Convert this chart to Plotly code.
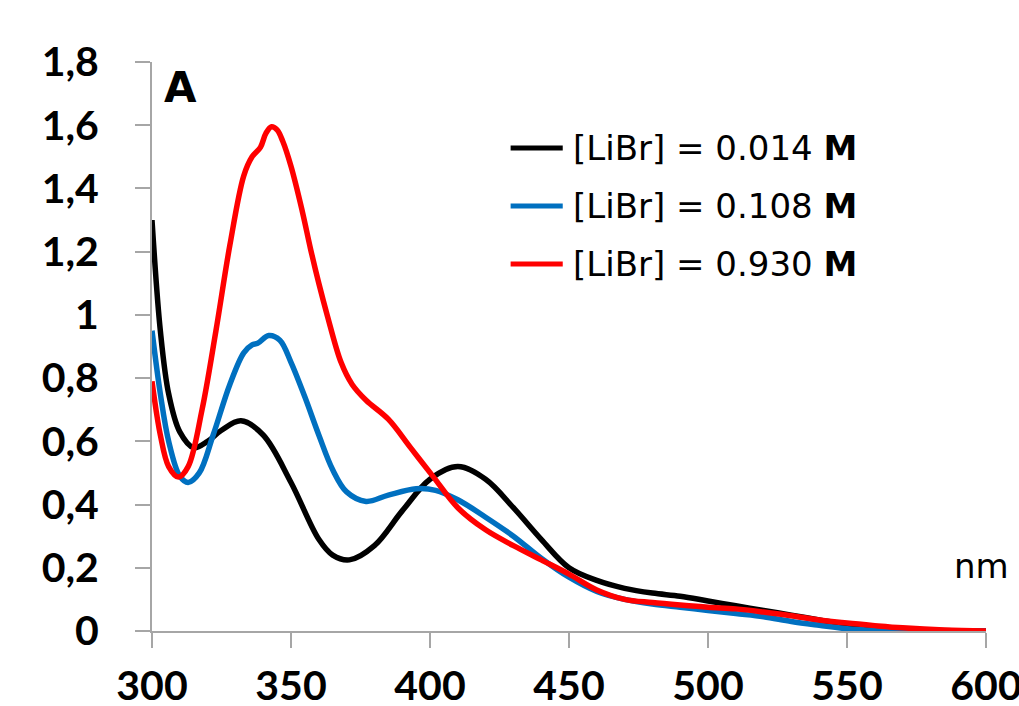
import plotly.graph_objects as go

# wavelengths (nm) and absorbance for each [LiBr]
wl_014 = [300, 303, 306, 310, 315, 320, 325, 332, 340, 350, 360, 365, 371, 380, 390, 400, 410, 420, 430,
          440, 450, 460, 470, 480, 490, 500, 510, 520, 530, 540, 550, 560, 575, 600]
abs_014 = [1.30, 0.95, 0.75, 0.63, 0.58, 0.60, 0.635, 0.665, 0.62, 0.47, 0.29, 0.24, 0.225, 0.27, 0.38, 0.48,
           0.52, 0.48, 0.39, 0.29, 0.20, 0.16, 0.135, 0.12, 0.11, 0.095, 0.08, 0.065, 0.05, 0.035, 0.02,
           0.01, 0.003, 0.0]

wl_108 = [300, 303, 306, 310, 313, 317, 322, 328, 333, 336, 338, 342, 346, 350, 355, 360, 365, 370, 377,
          385, 395, 402, 410, 420, 430, 440, 450, 460, 470, 480, 490, 500, 510, 520, 530, 540, 550, 560,
          575, 600]
abs_108 = [0.95, 0.75, 0.60, 0.49, 0.47, 0.50, 0.62, 0.78, 0.88, 0.905, 0.91, 0.935, 0.92, 0.85, 0.74, 0.62,
           0.51, 0.44, 0.41, 0.43, 0.45, 0.445, 0.415, 0.36, 0.30, 0.23, 0.17, 0.125, 0.10, 0.085, 0.075,
           0.065, 0.055, 0.045, 0.03, 0.018, 0.007, 0.002, 0.0, 0.0]

wl_930 = [300, 303, 306, 309.5, 313, 318, 323, 328, 333, 336, 339, 341, 343, 345, 347, 350, 354, 357, 360,
          363, 368, 372, 377, 385, 393, 401, 410, 420, 430, 440, 450, 460, 470, 480, 490, 500, 510, 520,
          530, 540, 550, 560, 570, 585, 600]
abs_930 = [0.79, 0.62, 0.52, 0.487, 0.52, 0.70, 0.95, 1.22, 1.44, 1.50, 1.53, 1.575, 1.595, 1.585, 1.55,
           1.47, 1.33, 1.21, 1.10, 1.00, 0.85, 0.78, 0.73, 0.67, 0.58, 0.49, 0.39, 0.32, 0.27, 0.225, 0.18,
           0.13, 0.10, 0.09, 0.082, 0.075, 0.07, 0.06, 0.048, 0.035, 0.025, 0.017, 0.01, 0.003, 0.0]

series_names = ["[LiBr] = 0.014 <b>M</b>", "[LiBr] = 0.108 <b>M</b>", "[LiBr] = 0.930 <b>M</b>"]
series_colors = ["#000000", "#0070C0", "#FF0000"]
series_x = [wl_014, wl_108, wl_930]
series_y = [abs_014, abs_108, abs_930]

x_ticks = [300, 350, 400, 450, 500, 550, 600]
y_ticks = [0, 0.2, 0.4, 0.6, 0.8, 1.0, 1.2, 1.4, 1.6, 1.8]

fig = go.Figure()
for xs, ys, name, col in zip(series_x, series_y, series_names, series_colors):
    fig.add_trace(go.Scatter(x=xs, y=ys, mode="lines", name=name,
                             line=dict(color=col, width=5.5, shape="spline", smoothing=1.0),
                             showlegend=False, cliponaxis=False))

axis_common = dict(showline=True, linecolor="#A6A6A6", linewidth=2, ticks="outside", ticklen=15,
                   tickcolor="#A6A6A6", tickwidth=2, showgrid=False, zeroline=False,
                   automargin=False, ticklabeloverflow="allow",
                   tickfont=dict(family="Lato", size=41, color="#000000", weight="bold"))

fig.update_layout(
    width=1019, height=706,
    margin=dict(l=152, r=33, t=62, b=75),
    plot_bgcolor="white", paper_bgcolor="white",
    separators=",.",
    xaxis=dict(range=[300, 600], tickvals=x_ticks, ticklabelstandoff=3, **axis_common),
    yaxis=dict(range=[0, 1.8], tickvals=y_ticks, ticklabelstandoff=28, **axis_common),
)

# manual legend (paper coordinates)
legend_rows_y = [0.849, 0.747, 0.645]
for name, col, yy in zip(series_names, series_colors, legend_rows_y):
    fig.add_shape(type="line", xref="paper", yref="paper", x0=0.43, x1=0.4925, y0=yy, y1=yy,
                  line=dict(color=col, width=5))
    fig.add_annotation(xref="paper", yref="paper", x=0.502, y=yy, text=name,
                       showarrow=False, xanchor="left", yanchor="middle",
                       font=dict(family="DejaVu Sans", size=34, color="#000000"))

fig.add_annotation(xref="paper", yref="paper", x=0.012, y=0.955, text="<b>A</b>", showarrow=False,
                   xanchor="left", yanchor="middle",
                   font=dict(family="DejaVu Sans", size=42, color="#000000"))
fig.add_annotation(xref="paper", yref="paper", x=1.03, y=0.115, text="nm", showarrow=False,
                   xanchor="right", yanchor="middle",
                   font=dict(family="DejaVu Sans", size=34, color="#000000"))

fig.write_html("out.html")
